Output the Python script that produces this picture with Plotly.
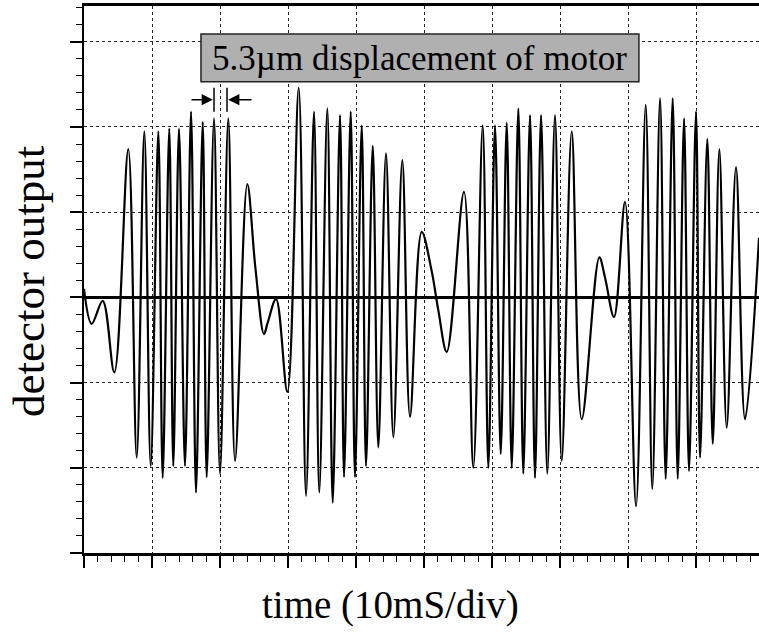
import plotly.graph_objects as go

# time in ms (10 ms per division), detector output in divisions
time_ms = [
    0.0, 1.13, 2.75, 4.46, 6.51, 7.75, 8.87, 9.81, 10.93, 11.57, 12.54, 13.13,
    13.97, 14.85, 15.74, 16.47, 17.46, 18.04, 19.12, 20.0, 21.22, 22.21, 24.01,
    25.2, 26.47, 27.0, 28.24, 29.90, 31.57, 32.65, 33.82, 34.60, 35.78, 36.57,
    37.65, 38.24, 39.22, 39.85, 40.84, 41.47, 42.46, 43.28, 44.41, 45.49, 46.81,
    47.94, 49.66, 51.1, 52.1, 53.34, 55.88, 57.25, 58.63, 59.46, 60.44, 61.28,
    62.16, 62.90, 63.87, 64.60, 65.59, 66.32, 67.21, 68.13, 69.26, 70.25, 71.72,
    73.19, 75.78, 76.6, 77.94, 79.56, 81.18, 82.60, 83.57, 84.71, 85.54, 86.57,
    87.31, 88.24, 88.97, 90.0, 90.59, 91.66, 92.46, 93.43, 94.51, 95.88, 97.21,
    99.26,
]
signal = [
    0.10, -0.31, -0.04, -0.88, 1.74, -1.88, 1.95, -1.98, 1.95, -2.12, 1.98, -1.98,
    1.98, -1.98, 2.18, -2.29, 2.06, -2.11, 2.10, -2.07, 2.10, -1.92, 1.33,
    0.35, -0.43, -0.30, -0.02, -1.11, 2.46, -2.33, 2.18, -2.29, 2.22, -2.41,
    2.14, -2.11, 2.18, -2.11, 2.02, -1.98, 1.78, -1.76, 1.69, -1.64, 1.61,
    -1.40, 0.77, 0.32, -0.15, -0.64, 1.24, -2.0, 2.02, -2.0, 2.02, -1.84,
    2.05, -2.0, 2.22, -2.07, 2.14, -2.12, 2.14, -2.07, 2.14, -1.92, 1.95,
    -1.43, 0.47, 0.24, -0.23, 1.12, -2.45, 2.26, -2.25, 2.34, -2.13, 2.34,
    -2.13, 2.10, -2.04, 2.18, -1.88, 1.86, -1.72, 1.74, -1.53, 1.53, -1.43,
    0.70,
]

label_text = "5.3µm displacement of motor"
x_title = "time (10mS/div)"
y_title = "detector output"

SERIF = "Liberation Serif, Times New Roman, serif"

fig = go.Figure()
fig.add_trace(go.Scatter(
    x=time_ms, y=signal, mode="lines",
    line=dict(color="black", width=2.2, shape="spline", smoothing=1.0),
    hoverinfo="skip", showlegend=False,
))

# gray label box
fig.add_shape(type="rect", xref="x", yref="y", x0=17.2, x1=81.6, y0=2.53, y1=3.09,
              fillcolor="#b0b0b0", line=dict(color="#222", width=1.5), layer="above")
fig.add_annotation(x=49.4, y=2.80, xref="x", yref="y", text=label_text, showarrow=False,
                   xanchor="center", yanchor="middle",
                   font=dict(family=SERIF, size=35, color="black"))

# fringe-spacing marker bars
for bx in [19.12, 21.03]:
    fig.add_shape(type="line", xref="x", yref="y", x0=bx, x1=bx, y0=2.18, y1=2.46,
                  line=dict(color="black", width=1.5))
fig.add_annotation(x=18.95, y=2.32, ax=15.59, ay=2.32, xref="x", yref="y", axref="x", ayref="y",
                   text="", showarrow=True, arrowhead=2, arrowsize=1.4, arrowwidth=1.6,
                   arrowcolor="black")
fig.add_annotation(x=21.2, y=2.32, ax=24.85, ay=2.32, xref="x", yref="y", axref="x", ayref="y",
                   text="", showarrow=True, arrowhead=2, arrowsize=1.4, arrowwidth=1.6,
                   arrowcolor="black")

W, H = 759, 633
L, R, T, B = 84, 0, 6, 80
pw, ph = W - L - R, H - T - B

# axis titles (pixel positions converted to paper coords)
fig.add_annotation(x=(390 - L) / pw, y=(H - B - 605) / ph, xref="paper", yref="paper",
                   text=x_title, showarrow=False, xanchor="center", yanchor="middle",
                   font=dict(family=SERIF, size=39, color="black"))
fig.add_annotation(x=(29 - L) / pw, y=(H - B - 281) / ph, xref="paper", yref="paper",
                   text=y_title, showarrow=False, textangle=-90, xanchor="center", yanchor="middle",
                   font=dict(family=SERIF, size=45, color="black"))

fig.update_layout(
    width=W, height=H,
    margin=dict(l=L, r=R, t=T, b=B, pad=0),
    paper_bgcolor="white", plot_bgcolor="white",
    showlegend=False,
    xaxis=dict(
        range=[0, 99.26], dtick=10, tick0=0, showticklabels=False,
        ticks="outside", ticklen=12, tickwidth=1.5, tickcolor="black",
        minor=dict(dtick=2, ticks="outside", ticklen=6, tickwidth=1, tickcolor="black", showgrid=False),
        showgrid=True, gridcolor="#222", griddash="dot", gridwidth=1.2,
        showline=True, linecolor="black", linewidth=2.5, mirror=True,
        zeroline=False,
    ),
    yaxis=dict(
        range=[-3, 3.42], dtick=1, tick0=0, showticklabels=False,
        ticks="outside", ticklen=12, tickwidth=1.5, tickcolor="black",
        minor=dict(dtick=0.2, ticks="outside", ticklen=6, tickwidth=1, tickcolor="black", showgrid=False),
        showgrid=True, gridcolor="#222", griddash="dot", gridwidth=1.2,
        showline=True, linecolor="black", linewidth=2,
        zeroline=True, zerolinecolor="black", zerolinewidth=2.5,
    ),
)

fig.write_html("out.html", config={"displayModeBar": False})

# remove the default page margin so the figure sits at the window origin
with open("out.html", "r", encoding="utf-8") as f:
    html = f.read()
html = html.replace("<body>", '<body style="margin:0;padding:0;overflow:hidden">', 1)
with open("out.html", "w", encoding="utf-8") as f:
    f.write(html)
